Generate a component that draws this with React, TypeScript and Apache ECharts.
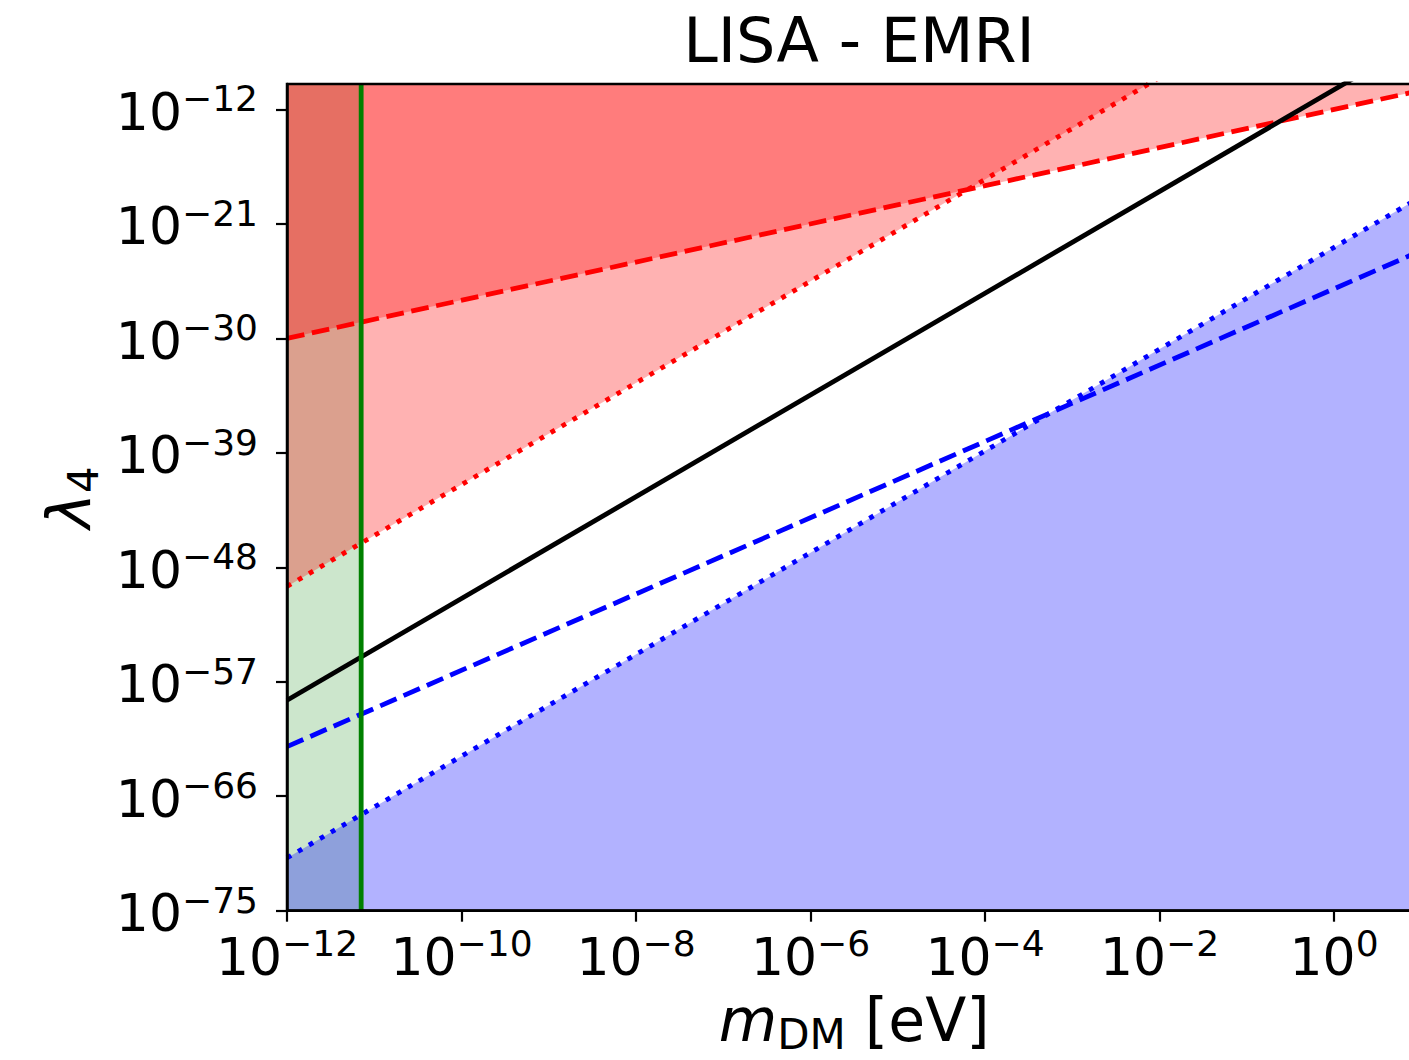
import React, { useEffect, useRef } from 'react';
import * as echarts from 'echarts';

// log10(m_DM / eV) at the two ends of the axis
const massEnds = [-12, 1];
// position of the vertical green line, log10(m_DM / eV)
const greenMass = -11.15;
// log10(lambda_4) at the two ends (m = 1e-12 eV, m = 10 eV) of each straight line
const blackSolid = [-58.45, -6.45];
const redDashed = [-30, -10.5];
const redDotted = [-49.5, 2.5];
const blueDashed = [-62.1, -23.1];
const blueDotted = [-70.85, -18.85];
// axis ranges and ticks (exponents)
const yRange = [-75, -10];
const xTicks = [-12, -10, -8, -6, -4, -2, 0];
const yTicks = [-75, -66, -57, -48, -39, -30, -21, -12];

const FONT = 'DejaVu Sans';
const LW = 4.8;

const pairs = (ys: number[]) => massEnds.map((x, i) => [x, ys[i]]);

const supLabel = (v: number) => {
  const s = (v < 0 ? '\u2212' : '') + Math.abs(v);
  return `{b|10}{s|${s}}`;
};

const labelRich = {
  b: { fontSize: 52, fontFamily: FONT, color: '#000', lineHeight: 57, verticalAlign: 'bottom' },
  s: { fontSize: 36, fontFamily: FONT, color: '#000', verticalAlign: 'top' },
};

const lineSeries = (name: string, ys: number[], color: string, type: any, z = 5) => ({
  name,
  type: 'line',
  data: pairs(ys),
  symbol: 'none',
  silent: true,
  z,
  lineStyle: { color, width: LW, type, cap: 'butt' },
});

const areaSeries = (name: string, ys: number[], color: string, origin: string, z = 2) => ({
  name,
  type: 'line',
  data: pairs(ys),
  symbol: 'none',
  silent: true,
  z,
  lineStyle: { width: 0, opacity: 0 },
  areaStyle: { color, origin, opacity: 1 },
});

const nameRich = {
  i: { fontSize: 60, fontStyle: 'italic', fontFamily: FONT, color: '#000', lineHeight: 66, verticalAlign: 'top' },
  sub: { fontSize: 42, fontFamily: FONT, color: '#000', verticalAlign: 'bottom' },
  n: { fontSize: 60, fontFamily: FONT, color: '#000', lineHeight: 66, verticalAlign: 'top' },
};

const DASH = [3.7 * LW, 1.6 * LW];
const DOT = [LW, 1.65 * LW];

export default function App() {
  const ref = useRef<HTMLDivElement>(null);
  useEffect(() => {
    const chart = echarts.init(ref.current!, null, { renderer: 'svg' });
    const option: any = {
      animation: false,
      backgroundColor: '#fff',
      title: {
        text: 'LISA - EMRI',
        left: 854,
        textAlign: 'center',
        top: 4,
        textStyle: { fontSize: 62, fontWeight: 'normal', fontFamily: FONT, color: '#000', lineHeight: 62 },
      },
      grid: {
        left: 287,
        top: 84,
        width: 1134.3,
        height: 826.7,
        show: true,
        z: 10,
        backgroundColor: 'transparent',
        borderColor: '#000',
        borderWidth: 2.5,
        containLabel: false,
        outerBoundsMode: 'none',
      },
      xAxis: {
        type: 'value',
        min: massEnds[0],
        max: massEnds[1],
        z: 10,
        splitLine: { show: false },
        axisLine: { show: true, onZero: false, lineStyle: { color: '#000', width: 2.5 } },
        axisTick: { show: true, customValues: xTicks, length: 11, lineStyle: { color: '#000', width: 2.2 } },
        axisLabel: {
          customValues: xTicks,
          margin: 15,
          formatter: supLabel,
          rich: labelRich,
        },
        name: '{i|m}{sub|DM}{n| [eV]}',
        nameLocation: 'middle',
        nameGap: 79,
        nameTextStyle: { rich: nameRich },
      },
      yAxis: {
        type: 'value',
        min: yRange[0],
        max: yRange[1],
        z: 10,
        splitLine: { show: false },
        axisLine: { show: true, onZero: false, lineStyle: { color: '#000', width: 2.5 } },
        axisTick: { show: true, customValues: yTicks, length: 11, lineStyle: { color: '#000', width: 2.2 } },
        axisLabel: {
          customValues: yTicks,
          margin: 29,
          formatter: supLabel,
          rich: labelRich,
        },
        name: '{i|\u03bb}{sub|4}',
        nameLocation: 'middle',
        nameRotate: 90,
        nameGap: 180,
        nameTextStyle: { rich: nameRich },
      },
      series: [
        {
          name: 'strip',
          type: 'line',
          data: [[massEnds[0], yRange[1]], [greenMass, yRange[1]]],
          symbol: 'none',
          silent: true,
          z: 1,
          lineStyle: { width: 0, opacity: 0 },
          areaStyle: { color: 'rgba(0,128,0,0.2)', origin: 'start', opacity: 1 },
        },
        areaSeries('red dashed fill', redDashed, 'rgba(255,0,0,0.3)', 'end'),
        areaSeries('red dotted fill', redDotted, 'rgba(255,0,0,0.3)', 'end'),
        areaSeries('blue dotted fill', blueDotted, 'rgba(0,0,255,0.3)', 'start'),
        lineSeries('red dashed', redDashed, '#ff0000', DASH),
        lineSeries('red dotted', redDotted, '#ff0000', DOT),
        lineSeries('black', blackSolid, '#000000', 'solid'),
        lineSeries('blue dashed', blueDashed, '#0000ff', DASH),
        lineSeries('blue dotted', blueDotted, '#0000ff', DOT),
        {
          name: 'green line',
          type: 'line',
          data: [[greenMass, yRange[0]], [greenMass, yRange[1]]],
          symbol: 'none',
          silent: true,
          z: 6,
          lineStyle: { color: '#008000', width: LW },
        },
      ],
    };
    chart.setOption(option);
    return () => chart.dispose();
  }, []);
  return (
    <div
      style={{
        position: 'absolute',
        left: 0,
        top: 0,
        width: 1409,
        height: 1060,
        overflow: 'hidden',
        background: '#fff',
      }}
    >
      <div ref={ref} style={{ width: 1422, height: 1060 }} />
    </div>
  );
}
